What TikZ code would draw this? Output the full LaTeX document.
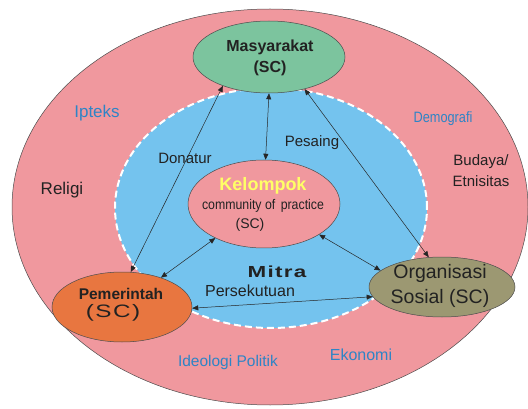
\documentclass[tikz,border=0pt]{standalone}
\usepackage{graphicx}
\usepackage{fontspec}
\setmainfont{Liberation Sans}
\newfontfamily\spacedfont[LetterSpace=6]{Liberation Sans}
\usetikzlibrary{shapes.geometric, arrows.meta}
\definecolor{envpink}{HTML}{F0989E}
\definecolor{arenablue}{HTML}{74C3EE}
\definecolor{masygreen}{HTML}{7CC49E}
\definecolor{pemorange}{HTML}{E87640}
\definecolor{orgolive}{HTML}{9C9872}
\definecolor{kelyellow}{HTML}{FFFF66}
\definecolor{factorblue}{HTML}{2E84C6}
\definecolor{inktext}{HTML}{222222}
\newcommand{\fsz}[2]{\fontsize{#1}{#2}\selectfont}
\newcommand{\hstretch}[2]{\scalebox{#1}[1]{#2}}

\begin{document}
\begin{tikzpicture}[x=1pt, y=-1pt,
  zone/.style={ellipse, draw=black!70, line width=0.5pt, inner sep=0pt},
  link/.style={{Triangle[length=6pt,width=5pt]}-{Triangle[length=6pt,width=5pt]}, line width=0.5pt, draw=black!85},
  factor/.style={text=factorblue, inner sep=1pt},
  relation/.style={text=inktext, font=\fsz{15}{18}, inner sep=1pt}]
\useasboundingbox (0,0) rectangle (528,409);

% environment and arena
\node[zone, fill=envpink, minimum width=516pt, minimum height=396pt] (env) at (270,207) {};
\node[ellipse, fill=arenablue, draw=white, line width=2pt, dash pattern=on 7pt off 4pt,
  minimum width=312pt, minimum height=240pt] (arena) at (271,208) {};

% actors
\node[zone, fill=masygreen, minimum width=152pt, minimum height=72pt] (masy) at (269,57) {};
\node[zone, fill=envpink, minimum width=152pt, minimum height=88pt] (kel) at (264,204) {};
\node[zone, fill=pemorange, minimum width=140pt, minimum height=70pt] (pem) at (122,307) {};
\node[zone, fill=orgolive, minimum width=146pt, minimum height=60pt] (org) at (442,287) {};

% actor texts
\node[text=inktext, align=center, font=\fsz{16}{21}\bfseries] (masytxt) at (270,58) {Masyarakat\\(SC)};
\node[text=inktext, align=center, font=\fsz{14}{19}] (keltxt) at (263,204)
  {{\fsz{18}{19}\bfseries\color{kelyellow}Kelompok}\\\hstretch{0.88}{community of\, practice}\\(SC)\hspace*{26pt}};
\node[text=inktext, align=center, font=\fsz{15.5}{18}] (pemtxt) at (121,305)
  {\bfseries Pemerintah\\{\spacedfont\fsz{18}{18}\hstretch{1.35}{(SC)}}\hspace*{16pt}};
\node[text=inktext, align=center, font=\fsz{19.5}{25}] (orgtxt) at (440,286) {Organisasi\\Sosial (SC)};

% relations
\draw[link] (masy.212) -- (pem.76);
\draw[link] (masy.270) -- (kel.88);
\draw[link] (masy.318) -- (org.114);
\draw[link] (kel.215) -- (pem.37);
\draw[link] (kel.331) -- (org.165);
\draw[link] (pem.359) -- (org.188);

\node[relation] (donatur) at (185,158) {Donatur};
\node[relation] (pesaing) at (312,143) {Pesaing};
\node[relation, font=\spacedfont\fsz{16}{18}\bfseries] (mitra) at (277,272) {\hstretch{1.4}{Mitra}};
\node[relation, font=\fsz{16}{18}] (sekutu) at (250,291) {Persekutuan};

% environment factors
\foreach \pos/\name/\size/\txt in {(97,113)/ipteks/17/Ipteks, (228,362)/ideologi/15.5/Ideologi Politik,
  (361,355)/ekonomi/16/Ekonomi}
\node[factor, font=\fsz{\size}{18}] (\name) at \pos {\txt};
\node[factor, font=\fsz{15}{18}] (demografi) at (443,119) {\hstretch{0.85}{Demografi}};
\node[text=inktext, font=\fsz{17}{18}] (religi) at (62,190) {Religi};
\node[text=inktext, align=center, font=\fsz{15}{21}] (budaya) at (481,171) {Budaya/\\Etnisitas};
\end{tikzpicture}
\end{document}
